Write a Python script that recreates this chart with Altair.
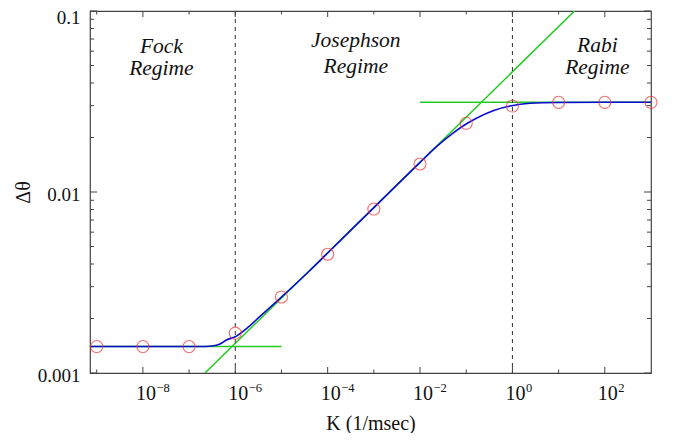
import altair as alt
import pandas as pd

# ---------------- data ----------------
# red circles (K = 10**exp)
circ_exp = [-9, -8, -7, -6, -5, -4, -3, -2, -1, 0, 1, 2, 3]
circ_val = [0.0014, 0.0014, 0.0014, 0.00166, 0.00263, 0.00453, 0.00805,
            0.01428, 0.02397, 0.02986, 0.0313, 0.0313, 0.0313]

# blue curve samples (log10 K, Δθ)
blue_exp = [-9.15, -8.0, -7.0, -6.75, -6.51, -6.33, -6.19, -6.0, -5.75, -5.47,
            -5.03, -4.38, -4.0, -3.0, -2.5, -2.0, -1.6, -1.3, -1.07, -0.78,
            -0.42, -0.05, 0.38, 1.0, 2.0, 3.0]
blue_val = [0.0014, 0.0014, 0.0014, 0.0014, 0.00141, 0.001446, 0.001522, 0.001587,
            0.001766, 0.002047, 0.002586, 0.003695, 0.0046, 0.0082, 0.01094,
            0.01459, 0.0182, 0.0210, 0.02315, 0.02554, 0.02813, 0.02986,
            0.0309, 0.03122, 0.0313, 0.0313]

# green asymptotes
green_slope_exp = [-6.656, 1.344]
green_slope_val = [0.001, 0.1]
green_low_exp = [-9.15, -5.0]
green_low_val = [0.0014, 0.0014]
green_high_exp = [-2.0, 3.0]
green_high_val = [0.0313, 0.0313]

# dashed regime boundaries
dash_exp = [-6, 0]

# regime labels
lab_text = ["Fock", "Regime", "Josephson", "Regime", "Rabi", "Regime"]
lab_exp = [-7.6, -7.6, -3.39, -3.39, 1.84, 1.84]
lab_val = [0.0588, 0.0443, 0.0635, 0.0453, 0.0597, 0.0447]

# axes
x_major_exp = [-8, -6, -4, -2, 0, 2]
x_minor_exp = [-9, -7, -5, -3, -1, 1]
y_major = [0.001, 0.01, 0.1]
y_minor = [m * d for d in (0.001, 0.01) for m in range(2, 10)]

X_DOMAIN = [10 ** -9.145, 1e3]
Y_DOMAIN = [0.001, 0.1]

W, H = 561, 362
FONT = "Liberation Serif"

xs = alt.Scale(type="log", domain=X_DOMAIN, nice=False)
ys = alt.Scale(type="log", domain=Y_DOMAIN, nice=False)

XAX = alt.Axis(
    title="K (1/msec)", labels=False, ticks=False, domain=False, grid=False,
    titlePadding=40, titleFontSize=20, titleFont=FONT, titleFontWeight="normal",
    titleColor="#111")
YAX = alt.Axis(
    title="Δθ", values=y_major, format=".3~f", ticks=False, domain=False,
    grid=False, labelPadding=10, labelFontSize=19, labelFont=FONT,
    labelOffset={"condition": {"test": "datum.value >= 0.09", "value": 6}, "value": 2},
    labelColor="#111", titlePadding=4, titleFontSize=20, titleFont=FONT,
    titleFontWeight="normal", titleColor="#111")

XE = alt.X("K:Q", scale=xs, axis=XAX)
YE = alt.Y("v:Q", scale=ys, axis=YAX)


def df(exps, vals):
    return pd.DataFrame({"K": [10.0 ** e for e in exps], "v": vals})


blue = alt.Chart(df(blue_exp, blue_val)).mark_line(
    color="#0a0ad2", strokeWidth=1.6, interpolate="monotone", clip=True
).encode(x=XE, y=YE)


def green(exps, vals):
    return alt.Chart(df(exps, vals)).mark_line(
        color="#1ecb1e", strokeWidth=1.5, clip=True
    ).encode(x=XE, y=YE)


dashes = alt.Chart(pd.DataFrame({"K": [10.0 ** e for e in dash_exp]})).mark_rule(
    color="#333", strokeWidth=1, strokeDash=[4, 4]
).encode(x=XE)

circles = alt.Chart(df(circ_exp, circ_val)).mark_point(
    shape="circle", size=145, filled=False, color="#ee3535", strokeWidth=1.1
).encode(x=XE, y=YE)

labels = alt.Chart(pd.DataFrame({
    "K": [10.0 ** e for e in lab_exp], "v": lab_val, "t": lab_text})).mark_text(
    font=FONT, fontStyle="italic", fontSize=21.5, align="center",
    baseline="alphabetic", color="#111"
).encode(x=XE, y=YE, text="t:N")

# ticks (inward, on all four sides)
TC = "#444"


def xticks(exps, length):
    d = pd.DataFrame({"K": [10.0 ** e for e in exps]})
    bot = alt.Chart(d).mark_rule(color=TC, strokeWidth=1).encode(
        x=XE, y=alt.value(H), y2=alt.value(H - length))
    top = alt.Chart(d).mark_rule(color=TC, strokeWidth=1).encode(
        x=XE, y=alt.value(0), y2=alt.value(length))
    return [bot, top]


def yticks(vals, length):
    d = pd.DataFrame({"v": vals})
    left = alt.Chart(d).mark_rule(color=TC, strokeWidth=1).encode(
        y=YE, x=alt.value(0), x2=alt.value(length))
    right = alt.Chart(d).mark_rule(color=TC, strokeWidth=1).encode(
        y=YE, x=alt.value(W), x2=alt.value(W - length))
    return [left, right]


tick_layers = (xticks(x_major_exp, 6) + xticks(x_minor_exp, 3.5)
               + yticks(y_major, 7) + yticks(y_minor, 4))

# x tick labels: "10" with superscript exponent
exp_str = [("−" + str(-e)) if e < 0 else str(e) for e in x_major_exp]
xl = pd.DataFrame({"K": [10.0 ** e for e in x_major_exp], "base": ["10"] * len(x_major_exp),
                   "ex": exp_str})
base_lab = alt.Chart(xl).mark_text(
    font=FONT, fontSize=20, align="center", baseline="alphabetic", dx=3, color="#111"
).encode(x=XE, y=alt.value(H + 27), text="base:N")
exp_lab = alt.Chart(xl).mark_text(
    font=FONT, fontSize=12.5, align="left", baseline="alphabetic", dx=13.5, color="#111"
).encode(x=XE, y=alt.value(H + 19), text="ex:N")

chart = alt.layer(
    green(green_slope_exp, green_slope_val),
    green(green_low_exp, green_low_val),
    green(green_high_exp, green_high_val),
    dashes,
    blue,
    circles,
    labels,
    *tick_layers,
    base_lab,
    exp_lab,
).properties(
    width=W, height=H,
    autosize=alt.AutoSizeParams(type="none"),
    padding={"left": 82, "top": 3, "right": 10, "bottom": 60},
).configure_view(stroke="#444", strokeWidth=1.2).configure_axis(
    labelFont=FONT, titleFont=FONT)

chart.save("out.html", embed_options={"renderer": "svg", "actions": False})
